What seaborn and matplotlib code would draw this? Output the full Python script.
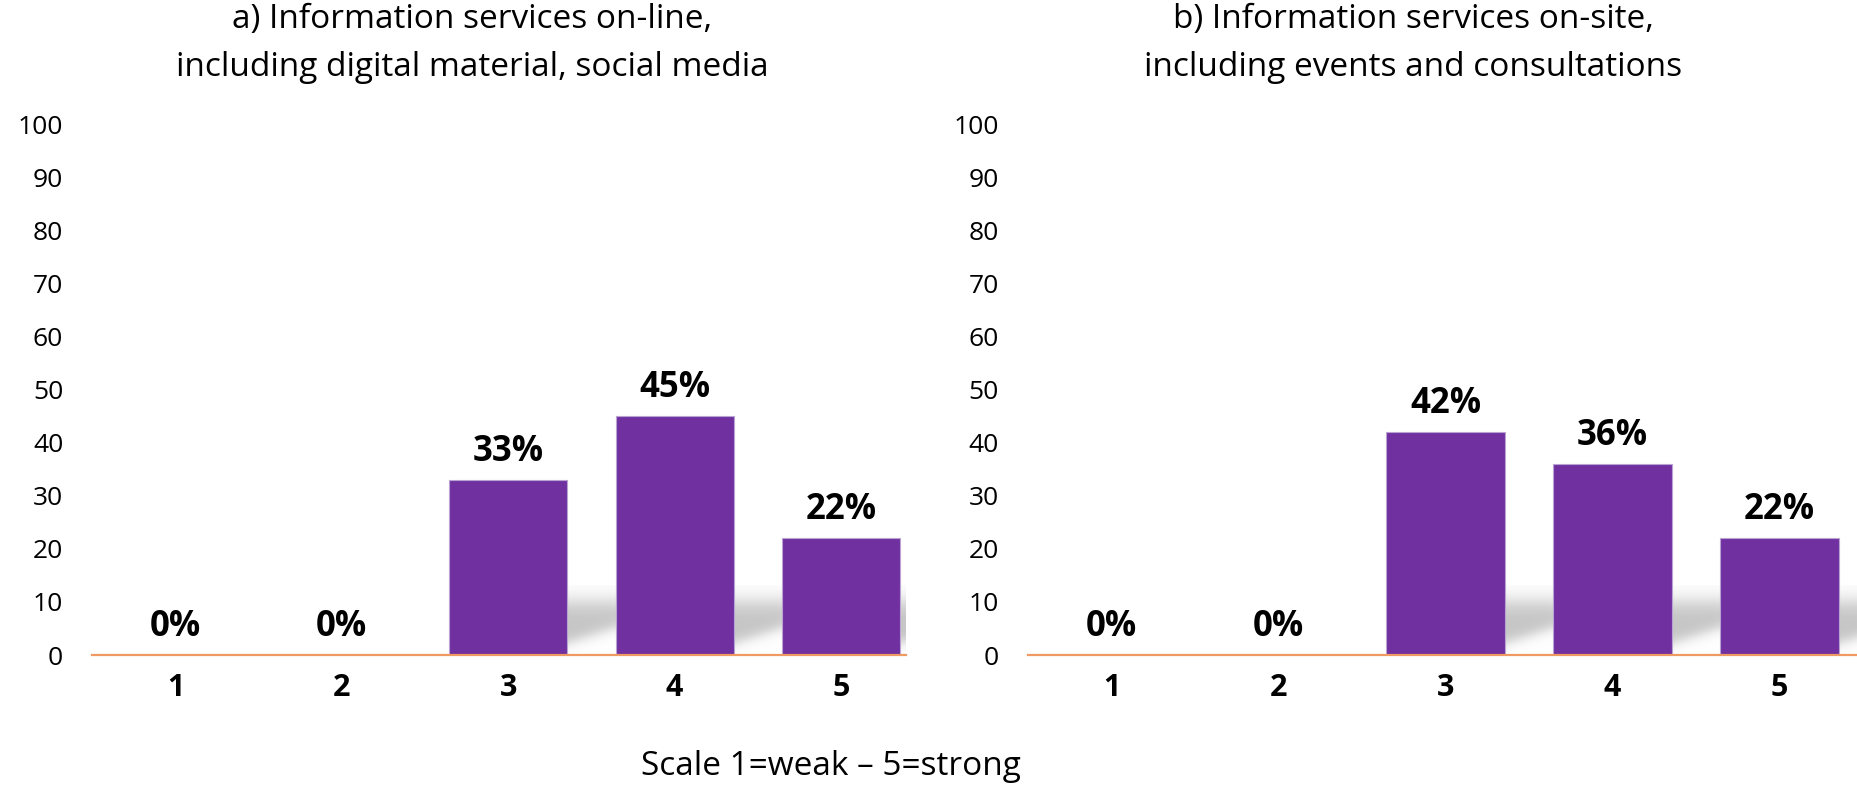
import numpy as np
import matplotlib
matplotlib.use("Agg")
import matplotlib.pyplot as plt
import seaborn as sns
import pandas as pd

# Data
SCALE = ['1', '2', '3', '4', '5']
ONLINE = [0, 0, 33, 45, 22]
ONSITE = [0, 0, 42, 36, 22]
TITLES = ['a) Information services on-line,\nincluding digital material, social media',
          'b) Information services on-site,\nincluding events and consultations']
YTICKS = [0, 10, 20, 30, 40, 50, 60, 70, 80, 90, 100]
XLABEL = 'Scale 1=weak \u2013 5=strong'

BAR_COLOR = '#7030A0'
AXIS_COLOR = '#EE9A62'

sns.set_style('white')
plt.rcParams['font.family'] = ['Open Sans', 'DejaVu Sans']
plt.rcParams['text.color'] = 'black'
plt.rcParams['xtick.color'] = 'black'
plt.rcParams['ytick.color'] = 'black'


def sigmoid(z):
    return 1.0 / (1.0 + np.exp(-z))


def add_shadows(ax, reach=0.5, top=13.0):
    """Soft grey shadow that sits in the gap to the right of each bar."""
    for p in list(ax.patches):
        if p.get_height() <= 0:
            continue
        x1 = p.get_x() + p.get_width()
        nx, ny = 120, 120
        xs = np.linspace(0, reach, nx)[None, :]
        ys = np.linspace(0, top, ny)[:, None]
        lower = 2.2 + 10.0 * np.minimum(xs, 0.3)
        alpha = sigmoid((ys - lower) / 0.7) * sigmoid((10.0 - ys) / 1.1)
        alpha = alpha * np.clip(1.15 - xs * 0.6, 0, 1) * 0.95
        img = np.zeros((ny, nx, 4))
        img[..., :3] = 0.76
        img[..., 3] = np.clip(alpha, 0, 1)
        ax.imshow(img, origin='lower', extent=(x1, x1 + reach, 0, top),
                  aspect='auto', zorder=0.5, interpolation='bilinear')


def draw_panel(ax, values, title, title_x, xmax):
    df = pd.DataFrame({'scale': SCALE, 'value': values})
    sns.barplot(data=df, x='scale', y='value', color=BAR_COLOR, saturation=1,
                width=0.71, edgecolor='#B9A3D3', linewidth=0.8, ax=ax, zorder=2)
    add_shadows(ax)
    ax.set_xlim(-0.5, xmax)
    ax.set_ylim(0, 100)
    ax.set_yticks(YTICKS)
    ax.set_xlabel('')
    ax.set_ylabel('')
    for s in ['top', 'right', 'left']:
        ax.spines[s].set_visible(False)
    ax.spines['bottom'].set_color(AXIS_COLOR)
    ax.spines['bottom'].set_linewidth(1.6)
    ax.spines['bottom'].set_zorder(3)
    ax.tick_params(axis='y', length=0, pad=21, labelsize=19)
    ax.tick_params(axis='x', length=0, pad=13, labelsize=22)
    for lab in ax.get_xticklabels():
        lab.set_fontweight('bold')
    for i, v in enumerate(values):
        ax.annotate(f'{v}%', xy=(i, v), xytext=(0, 20), textcoords='offset points',
                    ha='center', va='center', fontsize=25, fontweight='bold')
    ax.text(title_x, 1.152, title, transform=ax.transAxes, ha='center', va='center',
            fontsize=24, linespacing=1.58)


fig = plt.figure(figsize=(18.57, 7.85), dpi=100)
ax1 = fig.add_axes([0.0497, 0.1656, 0.4381, 0.6764])
ax2 = fig.add_axes([0.5536, 0.1656, 0.4497, 0.6764])

draw_panel(ax1, ONLINE, TITLES[0], 0.467, 4.39)
draw_panel(ax2, ONSITE, TITLES[1], 0.461, 4.5)

fig.text(0.4475, 0.002, XLABEL, ha='center', va='bottom', fontsize=24)

fig.savefig('out.png', dpi=100, facecolor='white')
